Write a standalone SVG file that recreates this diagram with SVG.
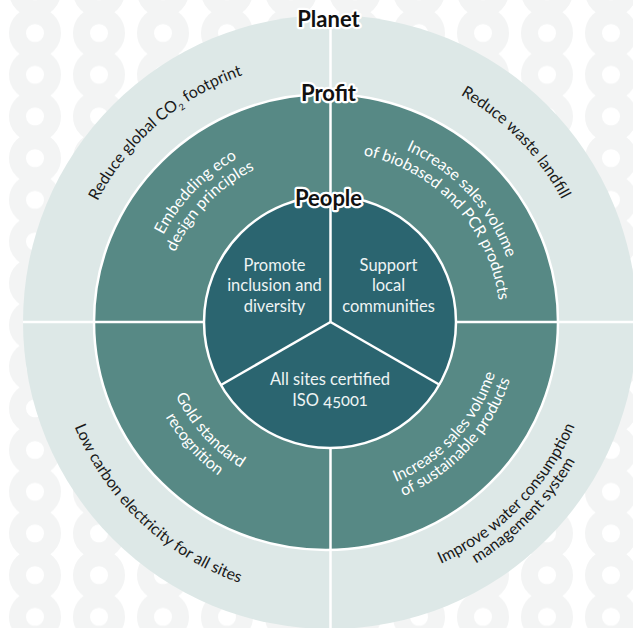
<svg xmlns="http://www.w3.org/2000/svg" width="633" height="628" viewBox="0 0 633 628">
<style>
.lbl{font-family:Lato,"Liberation Sans",sans-serif;font-weight:700;font-size:22px;fill:#111;stroke:#fff;stroke-width:4.5px;stroke-linejoin:round;paint-order:stroke;text-anchor:middle}
.w{font-family:Lato,"Liberation Sans",sans-serif;font-size:16px;fill:#fff}
.b{font-family:Lato,"Liberation Sans",sans-serif;font-size:16px;fill:#1a1a1a}
.in{font-family:Lato,"Liberation Sans",sans-serif;font-size:16.5px;fill:#eef4f4;text-anchor:middle}
.div{stroke:#fff;stroke-width:2.5;fill:none}
.bgc{fill:none;stroke:#f3f4f4;stroke-width:17}
</style>
<defs>
<pattern id="bgp" width="64" height="41.7" patternUnits="userSpaceOnUse">
<circle class="bgc" cx="35" cy="-8.7" r="17.5"/>
<circle class="bgc" cx="35" cy="33" r="17.5"/>
<circle class="bgc" cx="35" cy="74.7" r="17.5"/>
</pattern>
<path id="p-tl1" d="M149.3,373.8 A188,188 0 0 1 375.5,139.6"/>
<path id="p-tl2" d="M166.6,368.9 A170,170 0 0 1 371.1,157.1"/>
<path id="p-tr1" d="M287.7,138.8 A188,188 0 0 1 509.8,377.0"/>
<path id="p-tr2" d="M291.7,156.4 A170,170 0 0 1 492.6,371.7"/>
<path id="p-bl1" d="M167.4,269.2 A171,171 0 0 0 365.6,489.3"/>
<path id="p-bl2" d="M149.3,263.3 A190,190 0 0 0 369.5,507.8"/>
<path id="p-br1" d="M292.6,490.9 A173,173 0 0 0 495.0,270.0"/>
<path id="p-br2" d="M289.1,506.5 A189,189 0 0 0 510.2,265.2"/>
<path id="p-otl" d="M72.8,372.0 A262,262 0 0 1 415.3,74.3"/>
<path id="p-otr" d="M266.6,67.8 A262,262 0 0 1 581.9,394.2"/>
<path id="p-obl" d="M61.5,258.0 A276,276 0 0 0 408.9,586.5"/>
<path id="p-obr1" d="M264.8,579.9 A266,266 0 0 0 585.9,249.6"/>
<path id="p-obr2" d="M260.8,595.4 A282,282 0 0 0 601.3,245.2"/>
</defs>
<rect width="633" height="628" fill="#fff"/>
<rect width="633" height="628" fill="url(#bgp)"/>

<g id="ring-planet"><circle cx="330" cy="322" r="307" fill="#dde8e7"/></g>
<g id="ring-profit"><ellipse cx="326" cy="322" rx="232" ry="228" fill="#578985" stroke="#fff" stroke-width="2.5"/></g>
<g id="ring-people"><circle cx="330" cy="322" r="126" fill="#2b6570" stroke="#fff" stroke-width="2.5"/></g>

<g id="connectors" class="div">
<path d="M330.5,15 V322"/>
<path d="M330.5,448 V628"/>
<path d="M23,322 H204"/>
<path d="M456,322 H633"/>
<path d="M330.5,322 L221,385"/>
<path d="M330.5,322 L440,385"/>
</g>

<g id="planet-co2"><text class="b"><textPath href="#p-otl" startOffset="50%" text-anchor="middle">Reduce global CO<tspan font-size="9" dy="4">2</tspan><tspan dy="-4"> footprint</tspan></textPath></text></g>
<g id="planet-waste"><text class="b"><textPath href="#p-otr" startOffset="50%" text-anchor="middle">Reduce waste landfill</textPath></text></g>
<g id="planet-electricity"><text class="b"><textPath href="#p-obl" startOffset="50%" text-anchor="middle">Low carbon electricity for all sites</textPath></text></g>
<g id="planet-water"><text class="b"><textPath href="#p-obr1" startOffset="50%" text-anchor="middle">Improve water consumption</textPath></text><text class="b"><textPath href="#p-obr2" startOffset="50%" text-anchor="middle">management system</textPath></text></g>

<g id="profit-eco"><text class="w"><textPath href="#p-tl1" startOffset="50%" text-anchor="middle">Embedding eco</textPath></text><text class="w"><textPath href="#p-tl2" startOffset="50%" text-anchor="middle">design principles</textPath></text></g>
<g id="profit-biobased"><text class="w"><textPath href="#p-tr1" startOffset="50%" text-anchor="middle">Increase sales volume</textPath></text><text class="w"><textPath href="#p-tr2" startOffset="50%" text-anchor="middle">of biobased and PCR products</textPath></text></g>
<g id="profit-gold"><text class="w"><textPath href="#p-bl1" startOffset="50%" text-anchor="middle">Gold standard</textPath></text><text class="w"><textPath href="#p-bl2" startOffset="50%" text-anchor="middle">recognition</textPath></text></g>
<g id="profit-sustainable"><text class="w"><textPath href="#p-br1" startOffset="50%" text-anchor="middle">Increase sales volume</textPath></text><text class="w"><textPath href="#p-br2" startOffset="50%" text-anchor="middle">of sustainable products</textPath></text></g>

<g id="people-inclusion"><text class="in"><tspan x="274.5" y="270.5">Promote</tspan><tspan x="274.5" y="291">inclusion and</tspan><tspan x="274.5" y="311.5">diversity</tspan></text></g>
<g id="people-communities"><text class="in"><tspan x="388.5" y="270.5">Support</tspan><tspan x="388.5" y="291">local</tspan><tspan x="388.5" y="311.5">communities</tspan></text></g>
<g id="people-iso"><text class="in"><tspan x="330" y="385">All sites certified</tspan><tspan x="330" y="406" style="font-variant-numeric:oldstyle-nums">ISO 45001</tspan></text></g>

<g id="label-planet"><text class="lbl" x="328.5" y="26.5">Planet</text></g>
<g id="label-profit"><text class="lbl" x="328.5" y="101">Profit</text></g>
<g id="label-people"><text class="lbl" x="328.5" y="206">People</text></g>
</svg>
